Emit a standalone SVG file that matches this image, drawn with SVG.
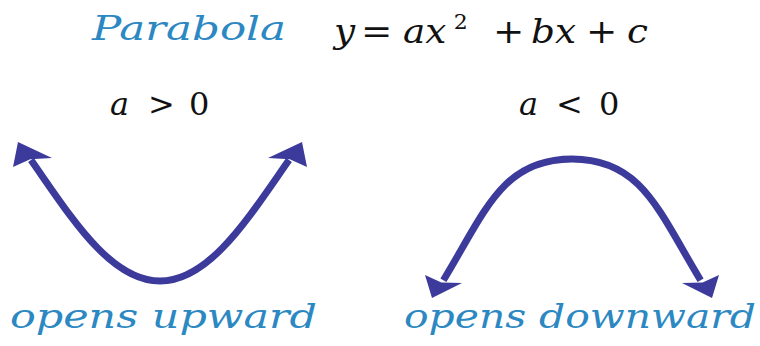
<svg xmlns="http://www.w3.org/2000/svg" width="760" height="346" viewBox="0 0 760 346">
<style>
text{font-family:'DejaVu Serif',serif;}
.blue{font-style:italic;fill:#2b88c2;}
.math{fill:#111;}
.i{font-style:italic;}
.curve{fill:none;stroke:#3c3a9b;stroke-width:7;}
.head{fill:#3c3a9b;}
</style>
<rect width="760" height="346" fill="#fff"/>
<g id="title">
<text class="blue" x="92" y="40" font-size="33" textLength="194" lengthAdjust="spacingAndGlyphs">Parabola</text>
</g>
<g id="equation" transform="scale(1.1,1)">
<text class="math" y="43" font-size="34"><tspan x="303.6" class="i">y</tspan><tspan x="328.2">=</tspan><tspan x="366.4" class="i">ax</tspan><tspan x="412.5" dy="-14" font-size="20">2</tspan><tspan x="448.2" dy="14">+</tspan><tspan x="482.7" class="i">bx</tspan><tspan x="532.7">+</tspan><tspan x="570" class="i">c</tspan></text>
</g>
<g id="cond-pos">
<text class="math" y="115" font-size="32"><tspan x="110" class="i">a</tspan><tspan x="148">&gt;</tspan><tspan x="189">0</tspan></text>
</g>
<g id="cond-neg">
<text class="math" y="115" font-size="32"><tspan x="519" class="i">a</tspan><tspan x="556">&lt;</tspan><tspan x="599">0</tspan></text>
</g>
<g id="curves">
<path id="up" class="curve" d="M31,160 C70.6,216.4 110,281 160,281 C210,281 249.4,216.4 289,160"/>
<path id="down" class="curve" d="M443.4,280.2 C485,211.8 502,159 572,159 C642,159 659,211.8 700.6,280.2"/>
<polygon class="head" points="18,142 52,158 30.2,159.2 13,167"/>
<polygon class="head" points="302,142 268,158 289.8,159.2 307,167"/>
<polygon class="head" points="432,298 425,275 441.4,282.4 462,283"/>
<polygon class="head" points="712,298 719,275 702.6,282.4 682,283"/>
</g>
<g id="label-up">
<text class="blue" x="10" y="328" font-size="33" textLength="307" lengthAdjust="spacingAndGlyphs">opens upward</text>
</g>
<g id="label-down">
<text class="blue" x="404" y="328" font-size="33" textLength="352" lengthAdjust="spacingAndGlyphs">opens downward</text>
</g>
</svg>
